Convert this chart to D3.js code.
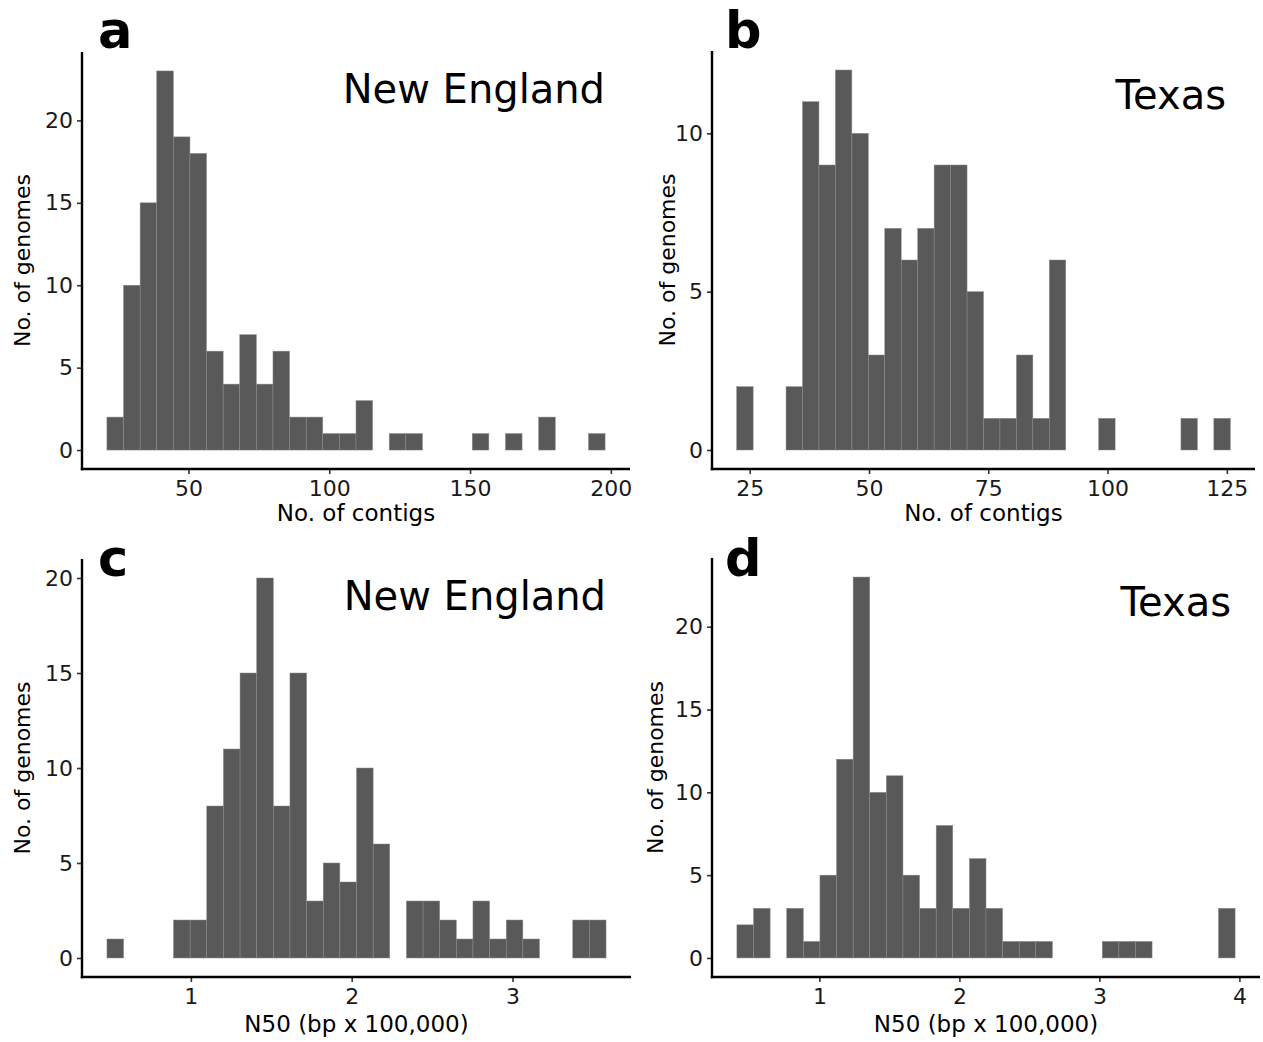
<!DOCTYPE html>
<html>
<head>
<meta charset="utf-8">
<script src="https://cdn.jsdelivr.net/npm/d3@7"></script>
<style>
  html, body { margin: 0; padding: 0; background: #ffffff; }
  svg { display: block; }
  text { font-family: "DejaVu Sans", sans-serif; }
</style>
</head>
<body>
<svg id="chart" width="1263" height="1042"></svg>
<script>
// ---------------- DATA ----------------
// Histogram counts (30 bins each, ggplot default), bin centres run from min to max value
const contigsNewEngland = [2,10,15,23,19,18,6,4,7,4,6,2,2,1,1,3,0,1,1,0,0,0,1,0,1,0,2,0,0,1];
const contigsNewEnglandRange = [24, 195];

const contigsTexas = [2,0,0,2,11,9,12,10,3,7,6,7,9,9,5,1,1,3,1,6,0,0,1,0,0,0,0,1,0,1];
const contigsTexasRange = [24, 124];

const n50NewEngland = [1,0,0,0,2,2,8,11,15,20,8,15,3,5,4,10,6,0,3,3,2,1,3,1,2,1,0,0,2,2];
const n50NewEnglandRange = [0.53, 3.53];

const n50Texas = [2,3,0,3,1,5,12,23,10,11,5,3,8,3,6,3,1,1,1,0,0,0,1,1,1,0,0,0,0,3];
const n50TexasRange = [0.47, 3.91];

const xTicksContigsNE = [50, 100, 150, 200];
const xTicksContigsTX = [25, 50, 75, 100, 125];
const xTicksN50NE = [1, 2, 3];
const xTicksN50TX = [1, 2, 3, 4];
const yTicksA = [0, 5, 10, 15, 20];
const yTicksB = [0, 5, 10];
const yTicksC = [0, 5, 10, 15, 20];
const yTicksD = [0, 5, 10, 15, 20];

const panelLetters = ["a", "b", "c", "d"];
const regionNames = ["New England", "Texas", "New England", "Texas"];
const xTitles = ["No. of contigs", "No. of contigs", "N50 (bp x 100,000)", "N50 (bp x 100,000)"];
const yTitle = "No. of genomes";

// ---------------- LAYOUT ----------------
const panels = [
  { counts: contigsNewEngland, range: contigsNewEnglandRange, xTicks: xTicksContigsNE, yTicks: yTicksA,
    box: { l: 82, r: 630, t: 52, b: 469 }, yTitleX: 22, letterX: 98, letterY: 48, xTitleDy: 52 },
  { counts: contigsTexas, range: contigsTexasRange, xTicks: xTicksContigsTX, yTicks: yTicksB,
    box: { l: 712, r: 1255, t: 51, b: 469 }, yTitleX: 667, letterX: 725, letterY: 48, xTitleDy: 52 },
  { counts: n50NewEngland, range: n50NewEnglandRange, xTicks: xTicksN50NE, yTicks: yTicksC,
    box: { l: 82, r: 631, t: 559, b: 977 }, yTitleX: 22, letterX: 98, letterY: 576, xTitleDy: 55 },
  { counts: n50Texas, range: n50TexasRange, xTicks: xTicksN50TX, yTicks: yTicksD,
    box: { l: 712, r: 1260, t: 558, b: 977 }, yTitleX: 655, letterX: 725, letterY: 576, xTitleDy: 55 }
];

const svg = d3.select("#chart");
svg.append("rect").attr("width", 1263).attr("height", 1042).attr("fill", "#ffffff");

panels.forEach((p, idx) => {
  const n = p.counts.length;
  const w = (p.range[1] - p.range[0]) / (n - 1);
  const lo = p.range[0] - w / 2;
  const hi = p.range[1] + w / 2;
  const bins = p.counts.map((c, i) => ({ x0: lo + i * w, x1: lo + (i + 1) * w, c }));

  const span = hi - lo;
  const x = d3.scaleLinear().domain([lo - 0.05 * span, hi + 0.05 * span]).range([p.box.l, p.box.r]);
  const ymax = d3.max(p.counts);
  const y = d3.scaleLinear().domain([-0.05 * ymax, 1.05 * ymax]).range([p.box.b, p.box.t]);

  const g = svg.append("g");

  // bars
  g.selectAll("rect.bar")
    .data(bins.filter(d => d.c > 0))
    .enter().append("rect")
    .attr("class", "bar")
    .attr("x", d => x(d.x0))
    .attr("width", d => x(d.x1) - x(d.x0))
    .attr("y", d => y(d.c))
    .attr("height", d => y(0) - y(d.c))
    .attr("fill", "#595959")
    .attr("stroke", "#8c8c8c")
    .attr("stroke-width", 0.5);

  // x axis
  const xAxis = d3.axisBottom(x).tickValues(p.xTicks).tickSize(5).tickPadding(6).tickFormat(d3.format("d"));
  const gx = g.append("g").attr("transform", `translate(0,${p.box.b})`).call(xAxis);
  gx.select(".domain").remove();
  gx.selectAll(".tick line").attr("stroke", "#333333").attr("stroke-width", 1.6);
  gx.selectAll(".tick text").attr("fill", "#1a1a1a").style("font-size", "22px")
    .style("font-family", "DejaVu Sans, sans-serif");

  // y axis
  const yAxis = d3.axisLeft(y).tickValues(p.yTicks).tickSize(5).tickPadding(4).tickFormat(d3.format("d"));
  const gy = g.append("g").attr("transform", `translate(${p.box.l},0)`).call(yAxis);
  gy.select(".domain").remove();
  gy.selectAll(".tick line").attr("stroke", "#333333").attr("stroke-width", 1.6);
  gy.selectAll(".tick text").attr("fill", "#1a1a1a").style("font-size", "22px")
    .style("font-family", "DejaVu Sans, sans-serif");

  // axis lines (theme_classic)
  g.append("line").attr("x1", p.box.l).attr("x2", p.box.l).attr("y1", p.box.t).attr("y2", p.box.b + 1.2)
    .attr("stroke", "#000").attr("stroke-width", 2.4);
  g.append("line").attr("x1", p.box.l - 1.2).attr("x2", p.box.r).attr("y1", p.box.b).attr("y2", p.box.b)
    .attr("stroke", "#000").attr("stroke-width", 2.4);

  // axis titles
  g.append("text")
    .attr("x", (p.box.l + p.box.r) / 2)
    .attr("y", p.box.b + p.xTitleDy)
    .attr("text-anchor", "middle")
    .style("font-size", "23px")
    .attr("fill", "#000")
    .text(xTitles[idx]);

  g.append("text")
    .attr("transform", `translate(${p.yTitleX},${(p.box.t + p.box.b) / 2}) rotate(-90)`)
    .attr("text-anchor", "middle")
    .attr("dy", "0.35em")
    .style("font-size", "22px")
    .attr("fill", "#000")
    .text(yTitle);

  // region label
  const isTexas = regionNames[idx] === "Texas";
  g.append("text")
    .attr("x", p.box.r - (isTexas ? 29 : 25))
    .attr("y", p.box.t + (isTexas ? 58 : 51))
    .attr("text-anchor", "end")
    .style("font-size", "40px")
    .attr("fill", "#000")
    .text(regionNames[idx]);

  // panel letter
  g.append("text")
    .attr("x", p.letterX)
    .attr("y", p.letterY)
    .style("font-size", "51px")
    .style("font-weight", "bold")
    .attr("fill", "#000")
    .text(panelLetters[idx]);
});
</script>
</body>
</html>
